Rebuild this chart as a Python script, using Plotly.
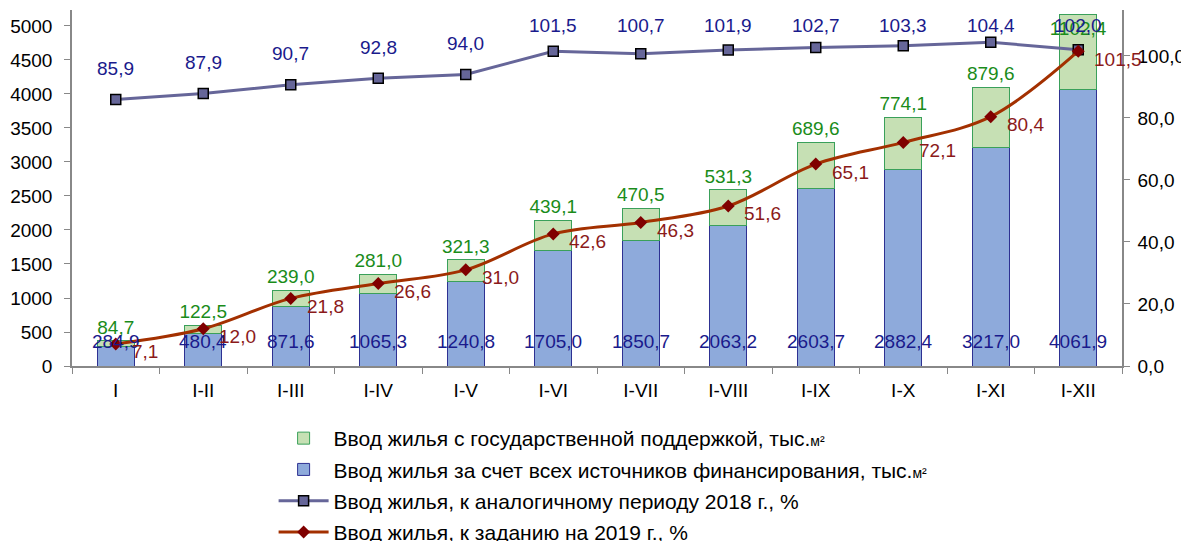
import plotly.graph_objects as go

categories = ["I", "I-II", "I-III", "I-IV", "I-V", "I-VI", "I-VII", "I-VIII", "I-IX", "I-X", "I-XI", "I-XII"]
total_all_sources = [284.9, 480.4, 871.6, 1065.3, 1240.8, 1705.0, 1850.7, 2063.2, 2603.7, 2882.4, 3217.0, 4061.9]
state_support = [84.7, 122.5, 239.0, 281.0, 321.3, 439.1, 470.5, 531.3, 689.6, 774.1, 879.6, 1102.4]
pct_vs_2018 = [85.9, 87.9, 90.7, 92.8, 94.0, 101.5, 100.7, 101.9, 102.7, 103.3, 104.4, 102.0]
pct_vs_plan = [7.1, 12.0, 21.8, 26.6, 31.0, 42.6, 46.3, 51.6, 65.1, 72.1, 80.4, 101.5]

FONT = "Liberation Sans, Arial, sans-serif"
LBL = 19
TICK = 19
small_m2 = "<span style='font-size:14px'>м²</span>"

FIG_W, FIG_H = 1181, 533
M_L, M_R, M_T, M_B = 64, 67, 2, 175
Y2_MAX = 114.8
PLOT_H = FIG_H - M_T - M_B


def fmt(v):
    return f"{v:.1f}".replace(".", ",")


def label_shift(v, above=31, min_from_top=16):
    # keep the label inside the chart area (like the original, labels near the top are pulled down)
    px_from_top = (1 - v / Y2_MAX) * PLOT_H
    return min(above, px_from_top - min_from_top)


fig = go.Figure()

fig.add_trace(go.Bar(
    x=categories, y=total_all_sources,
    name="Ввод жилья за счет всех источников финансирования, тыс." + small_m2,
    marker=dict(color="#8eaadb", line=dict(color="#2e3192", width=1)),
    width=0.42,
    legendgroup="b", legendrank=2,
))
green_pos = ["outside"] * (len(categories) - 1) + ["inside"]
fig.add_trace(go.Bar(
    x=categories, y=state_support,
    name="Ввод жилья с государственной поддержкой, тыс." + small_m2,
    marker=dict(color="#c6e0b4", line=dict(color="#3aa05a", width=1)),
    width=0.42,
    texttemplate="%{y:.1f}", textposition=green_pos, insidetextanchor="end",
    textangle=0, constraintext="none", cliponaxis=False,
    textfont=dict(color="#1a8c1a", size=LBL, family=FONT),
    legendgroup="a", legendrank=1,
))
fig.add_trace(go.Scatter(
    x=categories, y=pct_vs_2018, yaxis="y2",
    name="Ввод жилья, к аналогичному периоду 2018 г., %",
    mode="lines+markers",
    line=dict(color="#666699", width=3),
    marker=dict(symbol="square", size=10, color="#666699", line=dict(color="#000000", width=1.5)),
    cliponaxis=False,
    legendgroup="c", legendrank=3,
))
fig.add_trace(go.Scatter(
    x=categories, y=pct_vs_plan, yaxis="y2",
    name="Ввод жилья, к заданию на 2019 г., %",
    mode="lines+markers",
    line=dict(color="#a33000", width=3, shape="spline"),
    marker=dict(symbol="diamond", size=10, color="#800000"),
    cliponaxis=False,
    legendgroup="d", legendrank=4,
))

annotations = []
for c, v in zip(categories, total_all_sources):
    annotations.append(dict(x=c, y=0, xref="x", yref="y", text=fmt(v), showarrow=False,
                            yanchor="bottom", yshift=12,
                            font=dict(color="#1a1a8c", size=LBL, family=FONT)))
for c, v in zip(categories, pct_vs_2018):
    annotations.append(dict(x=c, y=v, xref="x", yref="y2", text=fmt(v), showarrow=False,
                            yanchor="middle", yshift=label_shift(v),
                            font=dict(color="#1a1a8c", size=LBL, family=FONT)))
for c, v in zip(categories, pct_vs_plan):
    annotations.append(dict(x=c, y=v, xref="x", yref="y2", text=fmt(v), showarrow=False,
                            xanchor="left", yanchor="middle", xshift=14, yshift=-8,
                            font=dict(color="#8b1a1a", size=LBL, family=FONT)))

# page body has an 8px margin; figure is sized so the plot area lands where the reference has it
fig.update_layout(
    width=FIG_W, height=FIG_H,
    barmode="stack",
    separators=", ",
    paper_bgcolor="white", plot_bgcolor="white",
    margin=dict(l=M_L, r=M_R, t=M_T, b=M_B, autoexpand=False),
    font=dict(family=FONT, size=TICK, color="#000000"),
    annotations=annotations,
    xaxis=dict(
        range=[-0.5, len(categories) - 0.5],
        showline=True, linecolor="#888888", linewidth=1.5,
        ticks="outside", tickson="boundaries", ticklen=6, tickcolor="#888888",
        showgrid=False, tickfont=dict(size=TICK), automargin=False, ticklabelstandoff=6,
    ),
    yaxis=dict(
        range=[0, 5235], dtick=500, showline=True, linecolor="#888888", linewidth=1.5,
        ticks="outside", ticklen=6, tickcolor="#888888", showgrid=False, zeroline=False,
        tickfont=dict(size=TICK), automargin=False, ticklabelstandoff=8,
    ),
    yaxis2=dict(
        range=[0, Y2_MAX], dtick=20, overlaying="y", side="right", tickformat=".1f",
        showline=True, linecolor="#888888", linewidth=1.5,
        ticks="outside", ticklen=6, tickcolor="#888888", showgrid=False, zeroline=False,
        tickfont=dict(size=TICK), automargin=False, ticklabelstandoff=4,
    ),
    legend=dict(
        orientation="v", x=0.192, xanchor="left", y=-0.146, yanchor="top",
        font=dict(size=21), tracegroupgap=1, itemwidth=50, traceorder="grouped",
    ),
)

fig.write_html("out.html")
